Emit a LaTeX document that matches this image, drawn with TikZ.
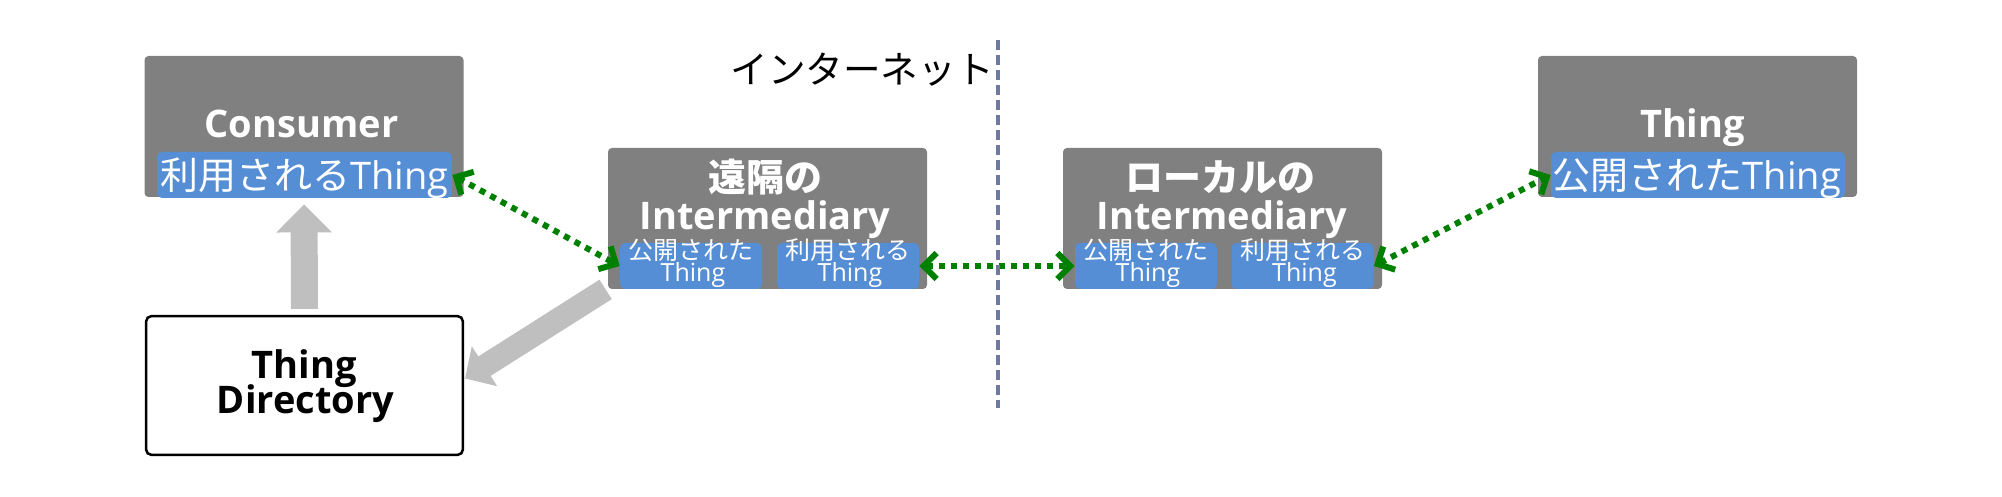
\documentclass[tikz,border=0pt]{standalone}
\usepackage{fontspec}
\setmainfont{Open Sans}
\newfontfamily\cjk{Noto Sans CJK JP}
\usetikzlibrary{arrows.meta,calc}
\definecolor{boxgray}{HTML}{808080}
\definecolor{stripblue}{HTML}{558ED5}
\definecolor{arrowgray}{HTML}{BFBFBF}
\definecolor{dashblue}{HTML}{6F789E}
\definecolor{linkgreen}{HTML}{008000}
\begin{document}
\begin{tikzpicture}[x=0.5pt,y=-0.5pt,
  graybox/.style={fill=boxgray,rounded corners=2pt,minimum width=159.5pt,minimum height=70.5pt,inner sep=0pt},
  dirbox/.style={draw=black,line width=1.25pt,fill=white,rounded corners=2.5pt,minimum width=158.3pt,minimum height=69.3pt,inner sep=0pt},
  strip/.style={fill=stripblue,rounded corners=2.5pt,minimum height=23pt,inner sep=0pt},
  subbox/.style={fill=stripblue,rounded corners=2.5pt,minimum width=71pt,minimum height=23pt,inner sep=0pt},
  titletext/.style={text=white,font=\fontsize{19pt}{22pt}\selectfont\bfseries,inner sep=0pt,anchor=base},
  dirtext/.style={text=black,font=\fontsize{19pt}{22pt}\selectfont\bfseries,inner sep=0pt,anchor=base},
  striptext/.style={text=white,font=\fontsize{19pt}{22pt}\selectfont,inner sep=0pt,anchor=base},
  subtext/.style={text=white,font=\fontsize{12.5pt}{14pt}\selectfont,inner sep=0pt,anchor=base},
  greenlink/.style={draw=linkgreen,line width=3pt,dash pattern=on 3pt off 3pt,
    {Straight Barb[length=6.5pt,width=13pt]}-{Straight Barb[length=6.5pt,width=13pt]}},
  bigarrow/.style={draw=arrowgray}
]
\useasboundingbox (0,0) rectangle (2002,497);

% boxes
\node[graybox] (cons) at (304,126.5) {};
\node[strip,minimum width=147.5pt] (consS) at (304.5,175) {};
\node[graybox] (thing) at (1697.5,126.5) {};
\node[strip,minimum width=147pt] (thingS) at (1698,175) {};
\node[graybox] (rem) at (767.5,218.5) {};
\node[subbox] (remL) at (691,266) {};
\node[subbox] (remR) at (848,266) {};
\node[graybox] (loc) at (1222.5,218.5) {};
\node[subbox] (locL) at (1146,266) {};
\node[subbox] (locR) at (1302.5,266) {};
\node[dirbox] (dir) at (304.5,385.5) {};

% texts
\node[titletext] (consT) at (301.5,138) {Consumer};
\node[striptext] (consST) at (304.5,190) {{\cjk 利用される}Thing};
\node[titletext] (thingT) at (1692.5,138) {Thing};
\node[striptext] (thingST) at (1697,190) {{\cjk 公開された}Thing};
\node[titletext] (remT1) at (765,192) {\cjk 遠隔の};
\node[titletext] (remT2) at (765,230) {Intermediary};
\node[titletext] (locT1) at (1220,192) {\cjk ローカルの};
\node[titletext] (locT2) at (1222,230) {Intermediary};
\node[subtext] (remLa) at (691,260) {\cjk 公開された};
\node[subtext] (remLb) at (693,282) {Thing};
\node[subtext] (remRa) at (848,260) {\cjk 利用される};
\node[subtext] (remRb) at (850,282) {Thing};
\node[subtext] (locLa) at (1146,260) {\cjk 公開された};
\node[subtext] (locLb) at (1148,282) {Thing};
\node[subtext] (locRa) at (1302.5,260) {\cjk 利用される};
\node[subtext] (locRb) at (1304.5,282) {Thing};
\node[dirtext] (dirT1) at (304.5,378) {Thing};
\node[dirtext] (dirT2) at (305.5,413) {Directory};
\node[text=black,font=\fontsize{18.8pt}{22pt}\selectfont\cjk,inner sep=0pt] (net) at (862,70) {インターネット};

% gray arrows
\draw[bigarrow,line width=13.5pt,-{Triangle[length=14pt,width=27pt]},shorten <=3pt,shorten >=3.5pt]
  (dir.north) -- (cons.south);
\draw[bigarrow,line width=11.5pt,-{Triangle[length=11.5pt,width=23pt]}]
  ($(rem.south west)+(-2,0)$) -- ($(dir.east)+(1,-7)$);

% green links
\draw[greenlink] (consS.east) -- (remL.west);
\draw[greenlink] (remR.east) -- (locL.west);
\draw[greenlink] (locR.east) -- (thingS.west);

% internet boundary
\coordinate (netTop) at (998,40);
\coordinate (netBot) at (998,408);
\draw[dashblue,line width=2pt,dash pattern=on 5pt off 2.5pt] (netTop) -- (netBot);
\end{tikzpicture}
\end{document}
